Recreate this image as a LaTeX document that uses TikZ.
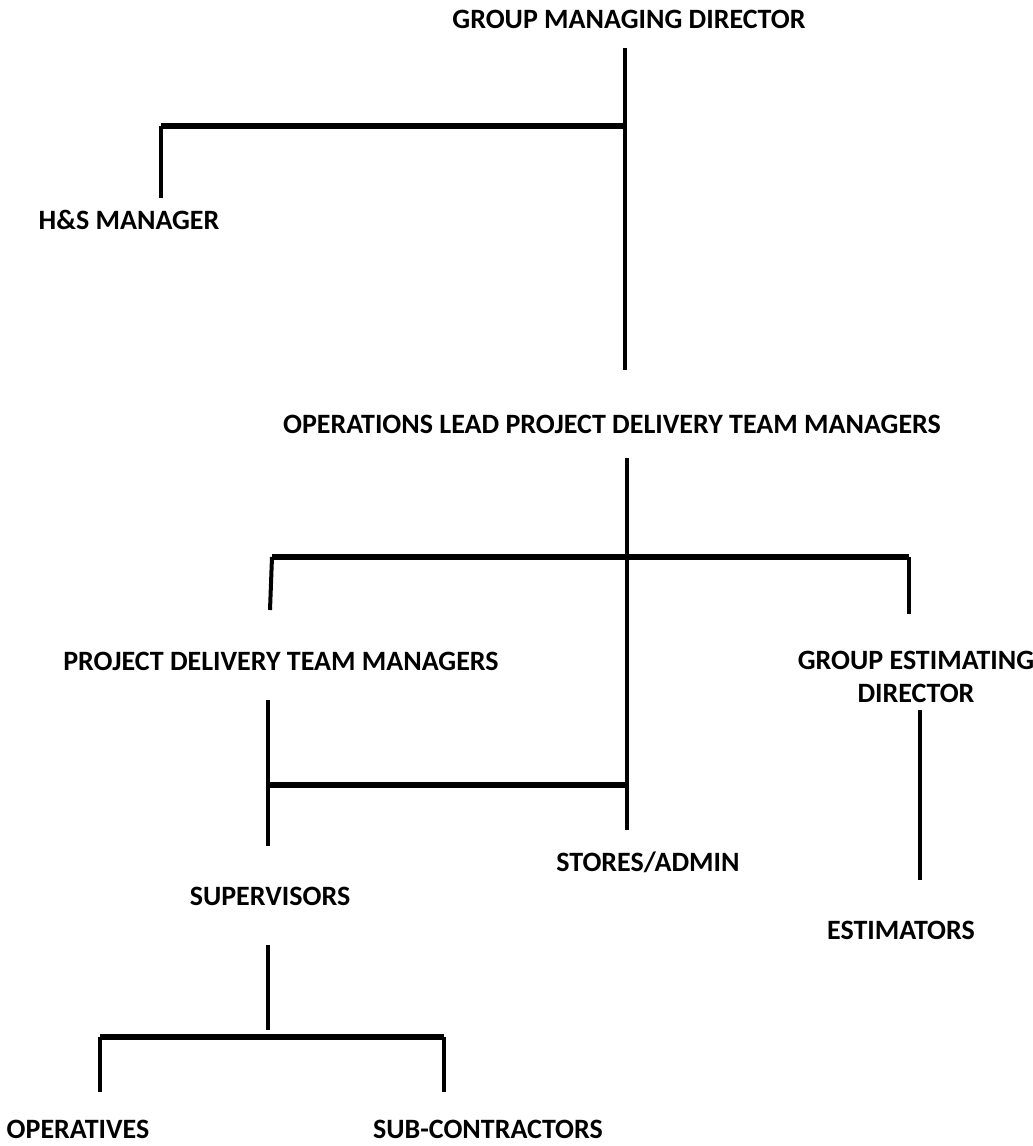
\documentclass[tikz,border=0pt]{standalone}
\usepackage{fontspec}
\setmainfont{Carlito}
\begin{document}
\begin{tikzpicture}[x=1pt,y=-1pt,
  lbl/.style={font=\fontsize{28}{33}\selectfont\bfseries, inner sep=0pt, align=center},
  vline/.style={line width=4pt},
  hline/.style={line width=5.5pt}]
\useasboundingbox (0,0) rectangle (1033,1146);
% labels
\node[lbl] (gmd) at (629,19) {GROUP MANAGING DIRECTOR};
\node[lbl] (hs) at (129,220) {H\&S MANAGER};
\node[lbl] (ops) at (612,424) {OPERATIONS LEAD PROJECT DELIVERY TEAM MANAGERS};
\node[lbl] (pdtm) at (281,661) {PROJECT DELIVERY TEAM MANAGERS};
\node[lbl] (ged) at (916,677) {GROUP ESTIMATING\\DIRECTOR};
\node[lbl] (stores) at (648,862) {STORES/ADMIN};
\node[lbl] (sup) at (270,896) {SUPERVISORS};
\node[lbl] (est) at (901,930) {ESTIMATORS};
\node[lbl] (op) at (78,1129) {OPERATIVES};
\node[lbl] (sub) at (488,1129) {SUB-CONTRACTORS};
% coordinates
\coordinate (g1) at (625,48);
\coordinate (g2) at (625,370);
\coordinate (h1) at (625,126);
\coordinate (h2) at (161,126);
\coordinate (h3) at (161,198);
\coordinate (o1) at (627,458);
\coordinate (o2) at (627,830);
\coordinate (l1) at (272,557);
\coordinate (l2) at (270,610);
\coordinate (r1) at (909,557);
\coordinate (r2) at (909,614);
\coordinate (p1) at (268,700);
\coordinate (p2) at (268,846);
\coordinate (p3) at (268,785);
\coordinate (s3) at (627,785);
\coordinate (e1) at (920,710);
\coordinate (e2) at (920,880);
\coordinate (u1) at (268,945);
\coordinate (u2) at (268,1030);
\coordinate (b1) at (100,1037);
\coordinate (b2) at (444,1037);
\coordinate (b3) at (100,1092);
\coordinate (b4) at (444,1092);
% connectors
\draw[vline] (g1) -- (g2);
\draw[hline] (h1) -- (h2);
\draw[vline] (h2) -- (h3);
\draw[vline] (o1) -- (o2);
\draw[hline] (l1) -- (r1);
\draw[vline] (l1) -- (l2);
\draw[vline] (r1) -- (r2);
\draw[vline] (p1) -- (p2);
\draw[hline] (p3) -- (s3);
\draw[vline] (e1) -- (e2);
\draw[vline] (u1) -- (u2);
\draw[hline] (b1) -- (b2);
\draw[vline] (b1) -- (b3);
\draw[vline] (b2) -- (b4);
\end{tikzpicture}
\end{document}
